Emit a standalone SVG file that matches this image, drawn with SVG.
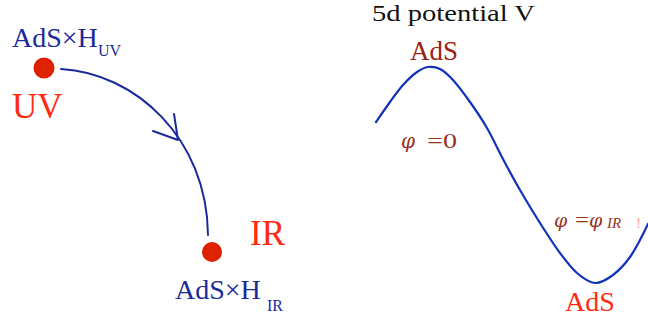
<svg xmlns="http://www.w3.org/2000/svg" width="648" height="322" viewBox="0 0 648 322">
<style>
.t{font-family:"Liberation Serif","Times New Roman",serif}
.g{font-family:"DejaVu Serif",serif;font-style:italic}
.blue{fill:#1a2a9a}
.red{fill:#ff2a10}
.dk{fill:#992211}
.phi{fill:#993322}
.dot{fill:#dd2200}
.ln{fill:none;stroke:#1a2a9a;stroke-width:2;stroke-linecap:round;stroke-linejoin:round}
.pot{fill:none;stroke:#1133bb;stroke-width:2.2;stroke-linecap:round;stroke-linejoin:round}
</style>
<rect width="648" height="322" fill="#ffffff"/>
<g id="uv">
<circle class="dot" cx="44" cy="68" r="10.5"/>
<text class="t blue" x="12" y="47" font-size="28">AdS×H</text>
<text class="t blue" x="98" y="56" font-size="16">UV</text>
<text class="t red" x="12" y="118" font-size="35">UV</text>
</g>
<g id="ir">
<circle class="dot" cx="212" cy="252" r="10"/>
<text class="t red" x="250" y="245" font-size="35">IR</text>
<text class="t blue" x="175" y="299" font-size="28">AdS×H</text>
<text class="t blue" x="267" y="311" font-size="16">IR</text>
</g>
<g id="connectors">
<path class="ln" d="M61,69 C135,73 207,138 208,235"/>
<path class="ln" d="M174,114 L178,140 L153,131"/>
</g>
<g id="potential">
<text class="t" x="372" y="21" font-size="23.5" fill="#111111" textLength="163" lengthAdjust="spacingAndGlyphs">5d potential V</text>
<text class="t dk" x="410" y="60" font-size="27">AdS</text>
<path class="pot" d="M376,122 C378.3,118.7 385.5,108.2 390,102 C394.5,95.8 398.5,90 403,85 C407.5,80 412.8,75 417,72 C421.2,69 424.2,67.5 428,67 C431.8,66.5 435.8,66.8 440,69 C444.2,71.2 448,74.5 453,80 C458,85.5 464.3,94 470,102 C475.7,110 481.5,118.5 487,128 C492.5,137.5 497.5,148.7 503,159 C508.5,169.3 513.8,179.3 520,190 C526.2,200.7 533.3,212.5 540,223 C546.7,233.5 553.8,244.7 560,253 C566.2,261.3 571.2,268 577,273 C582.8,278 589,282.7 595,283 C601,283.3 607.2,279.3 613,275 C618.8,270.7 624.3,265 630,257 C635.7,249 644.2,232 648,224"/>
<text class="g phi" x="401" y="148" font-size="20">φ</text>
<text class="t phi" x="427" y="148" font-size="22" textLength="30" lengthAdjust="spacingAndGlyphs">=0</text>
<text class="g phi" x="554" y="227" font-size="19">φ</text>
<text class="t phi" x="575" y="227" font-size="20" textLength="14" lengthAdjust="spacingAndGlyphs">=</text>
<text class="g phi" x="589" y="227" font-size="19">φ</text>
<text class="t phi" x="607" y="228" font-size="15" font-style="italic">IR</text>
<text class="t" x="636" y="228" font-size="15" fill="#f5a090">!</text>
<text class="t red" x="565" y="311" font-size="28">AdS</text>
</g>
</svg>
